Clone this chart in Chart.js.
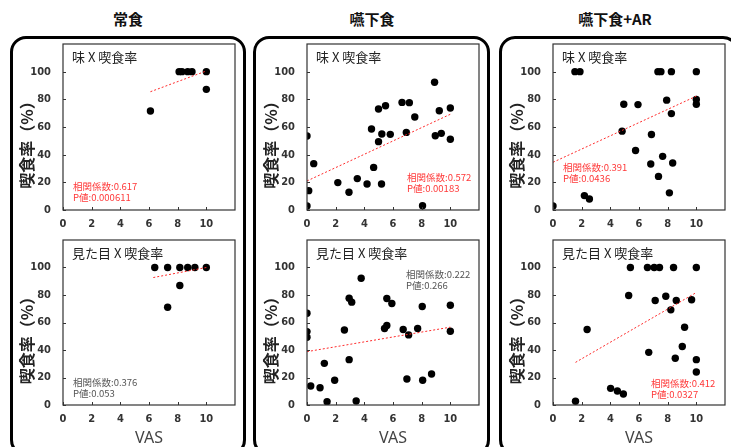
<!DOCTYPE html>
<html>
<head>
<meta charset="utf-8">
<script src="https://cdn.jsdelivr.net/npm/chart.js@4.4.1/dist/chart.umd.min.js"></script>
<style>
  body { margin: 0; background: #fff; }
  #wrap { position: relative; width: 731px; height: 447px; overflow: hidden; font-family: "Noto Sans CJK JP", sans-serif; }
  .frame { position: absolute; top: 36px; height: 420px; border: 3px solid #000; border-radius: 16px; box-sizing: border-box; }
  .head { position: absolute; top: 8px; width: 200px; font-weight: bold; font-size: 15px; line-height: 22px; text-align: center; color: #111; }
  canvas { position: absolute; }
</style>
</head>
<body>
<div id="wrap">
  <div class="frame" style="left:10px;width:236px"></div>
  <div class="frame" style="left:253px;width:237px"></div>
  <div class="frame" style="left:499px;width:240px"></div>
  <div class="head" style="left:28px">常食</div>
  <div class="head" style="left:272px">嚥下食</div>
  <div class="head" style="left:515px">嚥下食+AR</div>
  <canvas id="c1" width="233" height="196" style="left:8px;top:38px"></canvas>
  <canvas id="c2" width="233" height="213" style="left:8px;top:234px"></canvas>
  <canvas id="c3" width="233" height="196" style="left:252px;top:38px"></canvas>
  <canvas id="c4" width="233" height="213" style="left:252px;top:234px"></canvas>
  <canvas id="c5" width="233" height="196" style="left:498px;top:38px"></canvas>
  <canvas id="c6" width="233" height="213" style="left:498px;top:234px"></canvas>
</div>
<script>
// =====================
// Dados
// =====================
const xTicks = [0, 2, 4, 6, 8, 10];
const yTicks = [0, 20, 40, 60, 80, 100];

// 常食
const normalTasteX = [6.1, 8.1, 8.3, 8.7, 9.0, 10, 10];
const normalTasteY = [71.6, 100, 100, 100, 100, 100, 87.2];
const normalTasteFitX = [6.1, 10];
const normalTasteFitY = [85.5, 100.5];

const normalLookX = [6.4, 7.3, 7.3, 8.15, 8.15, 8.7, 9.2, 10];
const normalLookY = [100, 100, 71.1, 100, 86.9, 100, 100, 100];
const normalLookFitX = [6.3, 10];
const normalLookFitY = [92.7, 100];

// 嚥下食
const softTasteX = [0, 0, 0.12, 0.47, 2.15, 2.93, 3.51, 4.19, 4.5, 4.65, 4.99, 4.99, 5.2, 5.22, 5.48, 5.81, 6.63, 6.93, 7.14, 7.52, 8.06, 8.9, 8.95, 9.23, 9.37, 10, 10];
const softTasteY = [53.5, 2.9, 14, 33.5, 19.8, 12.8, 22.7, 18.8, 58.6, 30.8, 73, 49.4, 18.8, 54.9, 75.4, 54.7, 77.8, 56.1, 77.6, 67.2, 3.1, 92.3, 53.7, 71.8, 55.4, 73.7, 51.1];
const softTasteFitX = [0, 10];
const softTasteFitY = [21, 69.2];

const softLookX = [0, 0, 0, 0.26, 0.91, 1.21, 1.4, 1.93, 2.61, 2.94, 2.94, 3.12, 3.43, 3.78, 5.41, 5.57, 5.57, 5.92, 6.71, 6.97, 7.09, 7.72, 8.04, 8.07, 8.69, 10, 10];
const softLookY = [66.7, 53.4, 49.3, 13.8, 12.6, 30.3, 2.4, 18, 54.6, 77.7, 33, 74.8, 2.9, 92.2, 55.6, 57.8, 77.4, 73.8, 54.9, 18.9, 51, 55.6, 71.6, 18, 22.6, 72.6, 53.6];
const softLookFitX = [0, 10];
const softLookFitY = [38.8, 56.6];

// 嚥下食+AR
const arTasteX = [0, 1.53, 1.88, 2.19, 2.54, 4.82, 4.94, 5.93, 5.76, 6.87, 6.82, 7.32, 7.53, 7.36, 7.65, 7.93, 8.12, 8.26, 8.26, 8.35, 10, 10, 10];
const arTasteY = [2.9, 100, 100, 10.4, 8, 57, 76.5, 76.2, 43, 54.6, 33.3, 100, 100, 24.3, 38.8, 79.4, 12.4, 100, 69.7, 34, 100, 79.9, 76.5];
const arTasteFitX = [0, 10];
const arTasteFitY = [34.5, 82.3];

const arLookX = [1.57, 2.38, 4.02, 4.49, 4.91, 5.28, 5.4, 6.59, 6.68, 7.06, 7.13, 7.43, 7.87, 8.22, 8.41, 8.53, 8.6, 9.02, 9.18, 9.67, 10, 10, 10];
const arLookY = [2.7, 54.9, 12.1, 10.2, 8, 79.6, 100, 100, 38.3, 100, 76, 100, 79.1, 69.2, 100, 34, 76, 42.5, 56.6, 76.5, 100, 33, 24];
const arLookFitX = [1.57, 10];
const arLookFitY = [31, 81.8];

// Textos
const panelTitles = ["味 X 喫食率", "見た目 X 喫食率", "味 X 喫食率", "見た目 X 喫食率", "味 X 喫食率", "見た目 X 喫食率"];
const corrValues = ["0.617", "0.376", "0.572", "0.222", "0.391", "0.412"];
const pValues = ["0.000611", "0.053", "0.00183", "0.266", "0.0436", "0.0327"];
const significant = [true, false, true, false, true, true];
const yTitle = "喫食率（%）";
const xTitle = "VAS";

// posição das anotações (relativa à área do gráfico)
const statPos = [
  { dx: 10, dy: -24, from: "bottom" },
  { dx: 10, dy: -23, from: "bottom" },
  { dx: 100, dy: -33, from: "bottom" },
  { dx: 99, dy: 34, from: "top" },
  { dx: 10, dy: -43, from: "bottom" },
  { dx: 98, dy: -22, from: "bottom" },
];

function pts(xs, ys) {
  return xs.map((x, i) => ({ x, y: ys[i] }));
}

// =====================
// Plugin de desenho (moldura, textos)
// =====================
const decoracao = {
  id: "decoracao",
  afterDraw(chart, args, opts) {
    const ctx = chart.ctx;
    const a = chart.chartArea;
    const sx = chart.scales.x;
    const sy = chart.scales.y;
    ctx.save();

    // moldura
    ctx.strokeStyle = "#333";
    ctx.lineWidth = 1.2;
    ctx.strokeRect(a.left, a.top, a.right - a.left, a.bottom - a.top);

    // ticks para dentro
    ctx.lineWidth = 1;
    ctx.beginPath();
    xTicks.forEach((t) => {
      const px = Math.round(sx.getPixelForValue(t)) + 0.5;
      ctx.moveTo(px, a.bottom);
      ctx.lineTo(px, a.bottom - 3);
    });
    yTicks.forEach((t) => {
      const py = Math.round(sy.getPixelForValue(t)) + 0.5;
      ctx.moveTo(a.left, py);
      ctx.lineTo(a.left + 3, py);
    });
    ctx.stroke();

    // título do painel
    ctx.fillStyle = "#222";
    ctx.font = '13px "Noto Sans CJK JP"';
    ctx.textBaseline = "middle";
    ctx.textAlign = "left";
    ctx.fillText(panelTitles[opts.idx], a.left + 9, a.top + 13);

    // correlação
    const sp = statPos[opts.idx];
    const baseY = sp.from === "top" ? a.top + sp.dy : a.bottom + sp.dy;
    ctx.fillStyle = significant[opts.idx] ? "#ff3838" : "#555";
    ctx.font = '9.5px "Noto Sans CJK JP"';
    ctx.fillText("相関係数:" + corrValues[opts.idx], a.left + sp.dx, baseY);
    ctx.fillText("P値:" + pValues[opts.idx], a.left + sp.dx, baseY + 11);

    // título do eixo y
    ctx.save();
    ctx.translate(a.left - 36, (a.top + a.bottom) / 2 + 14);
    ctx.rotate(-Math.PI / 2);
    ctx.textAlign = "center";
    ctx.fillStyle = "#222";
    ctx.font = 'bold 16px "Noto Sans CJK JP"';
    ctx.fillText(yTitle, 0, 0);
    ctx.restore();

    // VAS
    if (opts.bottomRow) {
      ctx.textAlign = "center";
      ctx.fillStyle = "#444";
      ctx.font = '16px "Noto Sans", sans-serif';
      ctx.fillText(xTitle, (a.left + a.right) / 2, a.bottom + 33);
    }
    ctx.restore();
  },
};

const tickFont = { family: '"Liberation Sans Narrow", "DejaVu Sans Condensed", sans-serif', size: 11, weight: "bold" };

function semPadding(s) {
  s.paddingTop = 0;
  s.paddingBottom = 0;
  s.paddingLeft = 0;
  s.paddingRight = 0;
}

function criarGrafico(id, idx, xs, ys, fx, fy, bottomRow) {
  const ctx = document.getElementById(id).getContext("2d");
  return new Chart(ctx, {
    type: "scatter",
    data: {
      datasets: [
        {
          data: pts(xs, ys),
          backgroundColor: "#000",
          borderWidth: 0,
          pointRadius: 3.7,
          order: 1,
        },
        {
          type: "line",
          data: pts(fx, fy),
          borderColor: "#ff2a2a",
          borderWidth: 1,
          borderDash: [2, 2],
          pointRadius: 0,
          fill: false,
          order: 0,
        },
      ],
    },
    options: {
      responsive: false,
      animation: false,
      devicePixelRatio: 1,
      layout: { padding: { left: 0, top: 6, right: 6, bottom: 0 } },
      plugins: {
        legend: { display: false },
        tooltip: { enabled: false },
        decoracao: { idx, bottomRow },
      },
      scales: {
        x: {
          type: "linear",
          min: 0,
          max: 12,
          grid: { display: false, drawTicks: false },
          border: { display: false },
          afterFit: (s) => { s.height = bottomRow ? 42 : 24; semPadding(s); },
          afterBuildTicks: (s) => { s.ticks = xTicks.map((v) => ({ value: v })); },
          ticks: { color: "#333", font: tickFont, padding: 8, maxRotation: 0 },
        },
        y: {
          min: 0,
          max: 120,
          grid: { display: false, drawTicks: false },
          border: { display: false },
          afterFit: (s) => { s.width = 55; semPadding(s); },
          afterBuildTicks: (s) => { s.ticks = yTicks.map((v) => ({ value: v })); },
          ticks: { color: "#333", font: tickFont, padding: 12 },
        },
      },
    },
    plugins: [decoracao],
  });
}

criarGrafico("c1", 0, normalTasteX, normalTasteY, normalTasteFitX, normalTasteFitY, false);
criarGrafico("c2", 1, normalLookX, normalLookY, normalLookFitX, normalLookFitY, true);
criarGrafico("c3", 2, softTasteX, softTasteY, softTasteFitX, softTasteFitY, false);
criarGrafico("c4", 3, softLookX, softLookY, softLookFitX, softLookFitY, true);
criarGrafico("c5", 4, arTasteX, arTasteY, arTasteFitX, arTasteFitY, false);
criarGrafico("c6", 5, arLookX, arLookY, arLookFitX, arLookFitY, true);
</script>
</body>
</html>
